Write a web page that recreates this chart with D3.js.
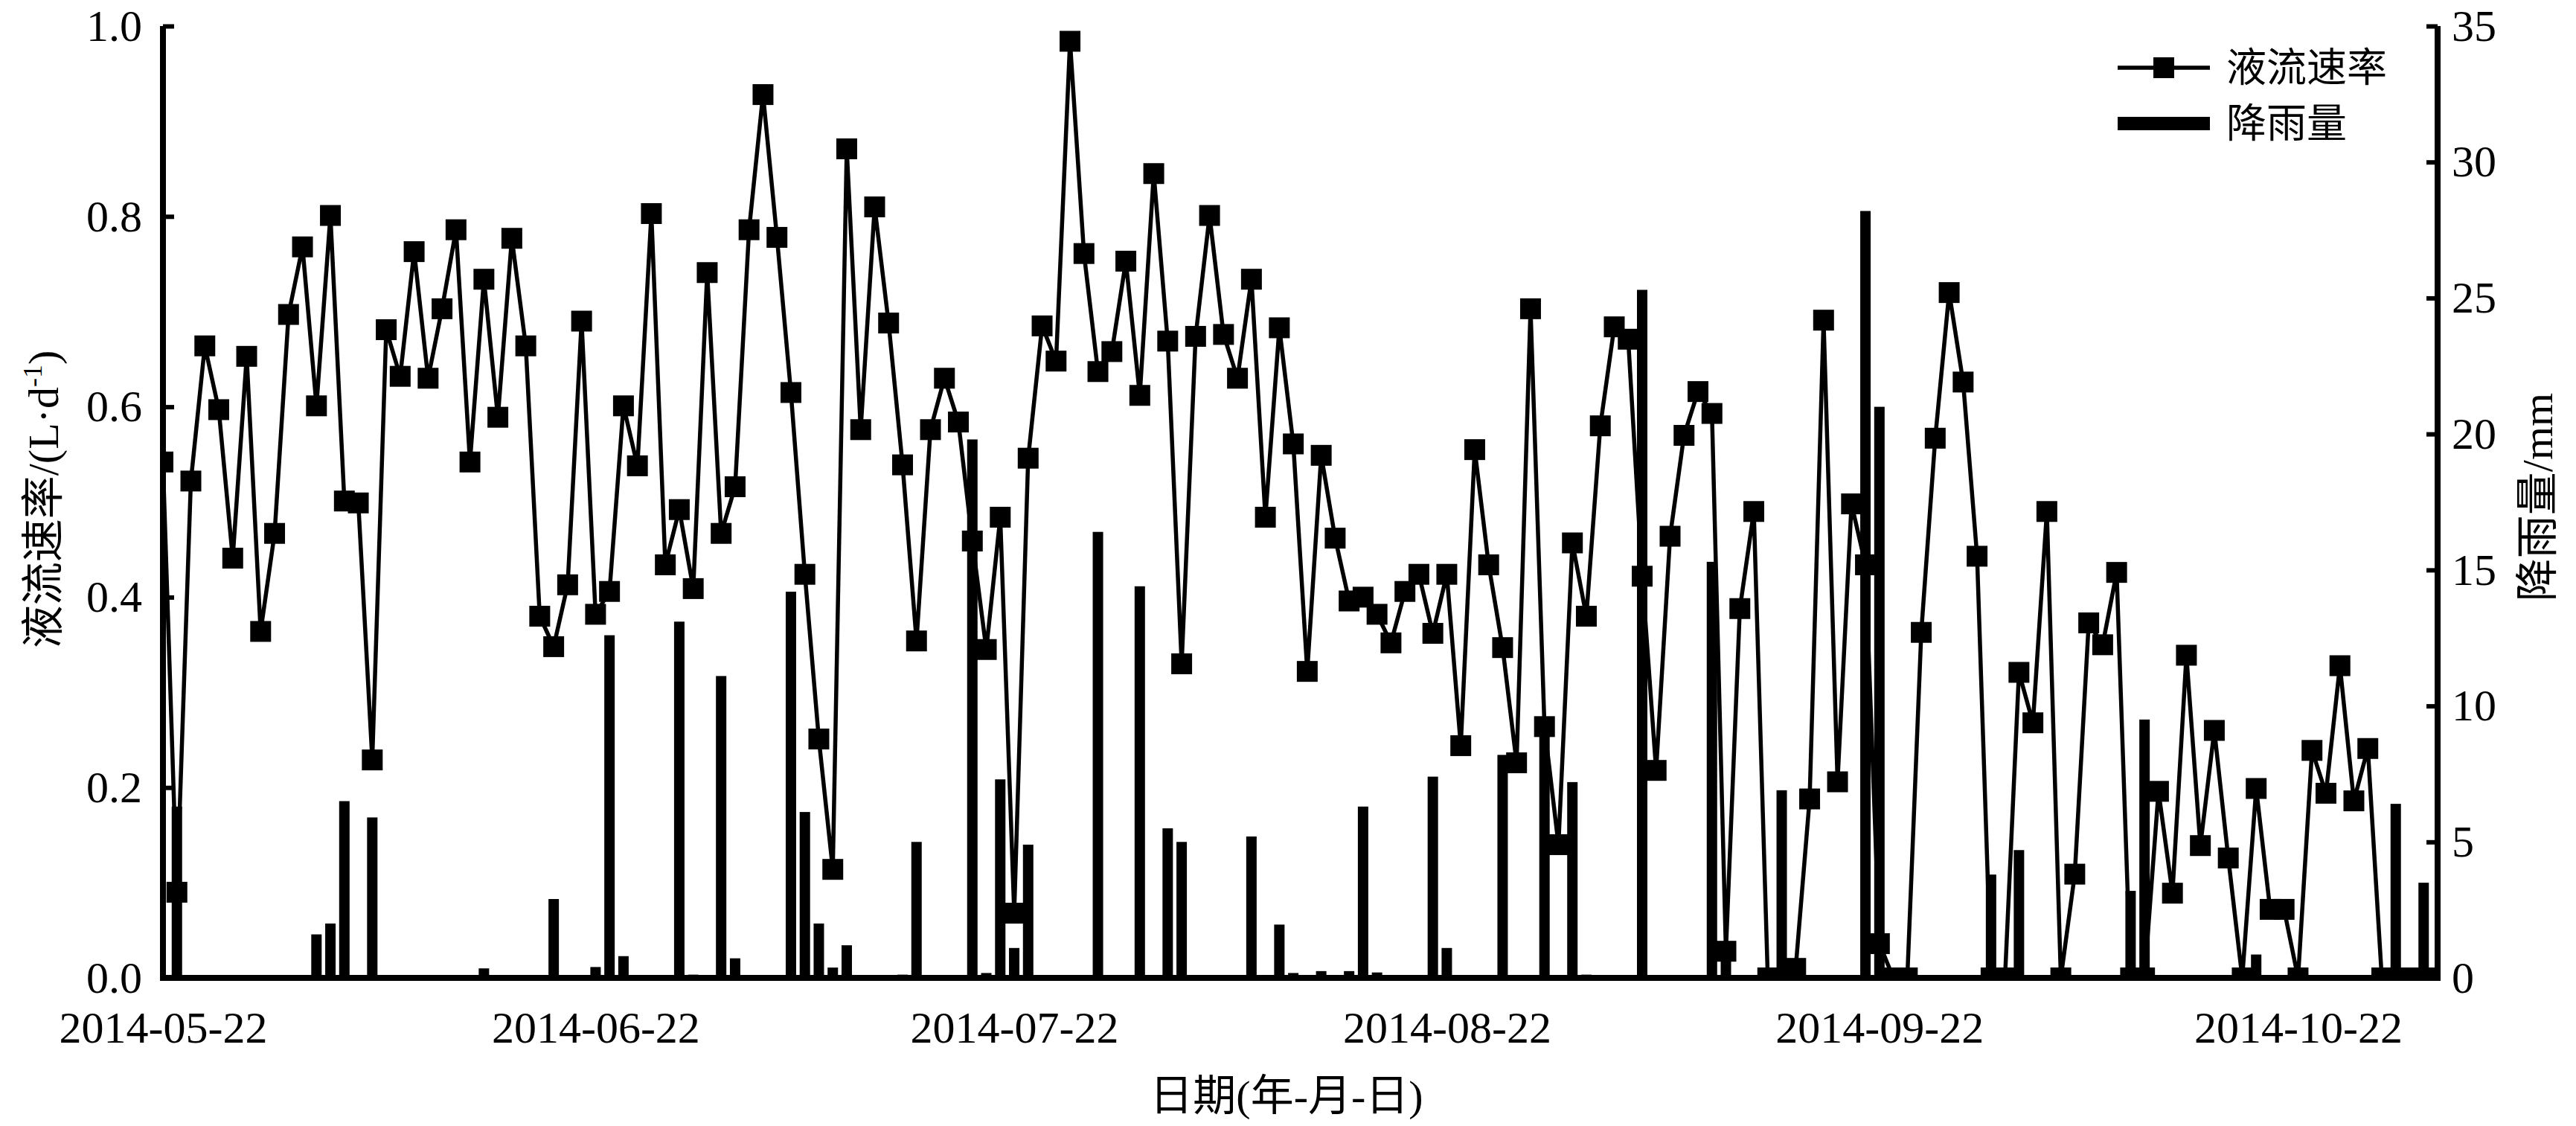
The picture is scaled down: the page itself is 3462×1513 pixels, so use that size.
<!DOCTYPE html>
<html>

<head>
    <meta charset="utf-8">
    <title>液流速率与降雨量</title>
    <script src="https://cdn.jsdelivr.net/npm/d3@7"></script>
    <style>
        body { margin: 0; background: #fff; }
        text { font-family: "Liberation Serif", "Noto Sans CJK SC", serif; fill: #000; }
    </style>
</head>

<body>
    <svg width="3462" height="1513" id="mainsvg"></svg>
    <script>
        // daily categories, first and last day of the record
        const startDay = '2014-05-22';
        const endDay = '2014-11-01';
        const tickLabels = ['2014-05-22', '2014-06-22', '2014-07-22', '2014-08-22', '2014-09-22', '2014-10-22'];
        const leftTicks = [0, 0.2, 0.4, 0.6, 0.8, 1.0];
        const rightTicks = [0, 5, 10, 15, 20, 25, 30, 35];

        // 液流速率 (L·d-1), one value per day
        const flowRate = [
            0.542, 0.090, 0.522, 0.664, 0.597, 0.441, 0.653, 0.364, 0.467, 0.697,
            0.768, 0.601, 0.801, 0.501, 0.499, 0.229, 0.681, 0.632, 0.763, 0.630,
            0.703, 0.786, 0.542, 0.734, 0.589, 0.777, 0.664, 0.380, 0.348, 0.413,
            0.690, 0.382, 0.406, 0.601, 0.538, 0.803, 0.434, 0.492, 0.409, 0.741,
            0.467, 0.516, 0.786, 0.928, 0.778, 0.615, 0.424, 0.251, 0.114, 0.871,
            0.576, 0.810, 0.688, 0.539, 0.354, 0.576, 0.630, 0.584, 0.459, 0.345,
            0.484, 0.068, 0.546, 0.685, 0.648, 0.984, 0.761, 0.637, 0.658, 0.753,
            0.612, 0.845, 0.669, 0.330, 0.674, 0.801, 0.676, 0.630, 0.734, 0.484,
            0.683, 0.561, 0.322, 0.549, 0.462, 0.396, 0.400, 0.382, 0.352, 0.406,
            0.424, 0.362, 0.424, 0.244, 0.555, 0.434, 0.347, 0.226, 0.703, 0.264,
            0.140, 0.457, 0.380, 0.580, 0.684, 0.671, 0.422, 0.218, 0.464, 0.570,
            0.616, 0.593, 0.028, 0.388, 0.490, 0.000, 0.000, 0.010, 0.188, 0.691,
            0.206, 0.498, 0.434, 0.036, 0.000, 0.000, 0.363, 0.567, 0.720, 0.626,
            0.443, 0.000, 0.000, 0.321, 0.268, 0.490, 0.000, 0.109, 0.373, 0.350,
            0.426, 0.000, 0.000, 0.196, 0.089, 0.339, 0.139, 0.260, 0.126, 0.000,
            0.199, 0.072, 0.072, 0.000, 0.239, 0.194, 0.328, 0.186, 0.241, 0.000,
            0.000, 0.000, 0.000, 0.000
        ];

        // 降雨量 (mm), one value per day
        const rainfall = [
            0, 6.3, 0, 0, 0, 0, 0, 0, 0, 0,
            0, 1.6, 2.0, 6.5, 0, 5.9, 0, 0, 0, 0,
            0, 0, 0, 0.35, 0, 0, 0, 0, 2.9, 0,
            0, 0.4, 12.6, 0.8, 0, 0, 0, 13.1, 0.12, 0,
            11.1, 0.72, 0, 0, 0, 14.2, 6.1, 2.0, 0.38, 1.2,
            0, 0, 0, 0.12, 5.0, 0, 0, 0, 19.8, 0.18,
            7.3, 1.1, 4.9, 0, 0, 0, 0, 16.4, 0, 0,
            14.4, 0, 5.5, 5.0, 0, 0, 0, 0, 5.2, 0,
            1.96, 0.18, 0, 0.25, 0, 0.25, 6.3, 0.2, 0, 0,
            0, 7.4, 1.1, 0, 0, 0, 8.2, 0, 0, 9.3,
            0, 7.2, 0.12, 0, 0, 0, 25.3, 0, 0, 0,
            0, 15.3, 0.8, 0, 0, 0, 6.9, 0, 0, 0,
            0, 0, 28.2, 21.0, 0, 0, 0, 0, 0, 0,
            0, 3.8, 0, 4.7, 0, 0, 0, 0, 0, 0,
            0, 3.2, 9.5, 0, 0, 0, 0, 0, 0, 0,
            0.86, 0, 0, 0, 0, 0, 0, 0, 0, 0,
            6.4, 0, 3.5, 0
        ];

        const svg = d3.select('svg');
        const parse = d3.timeParse('%Y-%m-%d');
        const days = d3.timeDays(parse(startDay), d3.timeDay.offset(parse(endDay), 1));
        const data = days.map((d, i) => ({ date: d, flow: flowRate[i], rain: rainfall[i] }));

        const plotL = 219, plotR = 3276, plotT = 35, plotB = 1314;
        const AXIS_W = 8;
        const MARK = 28;
        const BAR_W = 14;
        const LINE_W = 5.5;

        const x = d3.scaleTime().domain([parse(startDay), parse(endDay)]).range([plotL, plotR]);
        const yL = d3.scaleLinear().domain([0, 1]).range([plotB, plotT]);
        const yR = d3.scaleLinear().domain([0, 35]).range([plotB, plotT]);

        svg.append('rect').attr('width', 3462).attr('height', 1513).attr('fill', '#fff');

        svg.append('clipPath').attr('id', 'plotclip')
            .append('rect').attr('x', plotL).attr('y', plotT - 20)
            .attr('width', plotR - plotL).attr('height', plotB - plotT + 20);

        const plot = svg.append('g').attr('clip-path', 'url(#plotclip)');

        // rain bars
        plot.selectAll('.bar').data(data.filter(d => d.rain > 0)).join('rect').attr('class', 'bar')
            .attr('x', d => x(d.date) - BAR_W / 2).attr('width', BAR_W)
            .attr('y', d => yR(d.rain)).attr('height', d => yR(0) - yR(d.rain))
            .attr('fill', '#000');

        // flow line + square markers
        const line = d3.line().x(d => x(d.date)).y(d => yL(d.flow));
        plot.append('path').datum(data).attr('d', line)
            .attr('fill', 'none').attr('stroke', '#000').attr('stroke-width', LINE_W)
            .attr('stroke-linejoin', 'miter');

        plot.selectAll('.mark').data(data).join('rect').attr('class', 'mark')
            .attr('x', d => x(d.date) - MARK / 2).attr('y', d => yL(d.flow) - MARK / 2)
            .attr('width', MARK).attr('height', MARK).attr('fill', '#000');

        // axes
        const leftAxis = d3.axisRight(yL).tickValues(leftTicks).tickSize(15).tickFormat(d3.format('.1f'));
        const gL = svg.append('g').attr('transform', `translate(${plotL},0)`).call(leftAxis);
        const rightAxis = d3.axisLeft(yR).tickValues(rightTicks).tickSize(15).tickFormat(d3.format('d'));
        const gR = svg.append('g').attr('transform', `translate(${plotR},0)`).call(rightAxis);
        const bottomAxis = d3.axisBottom(x).tickValues(tickLabels.map(parse)).tickSize(0)
            .tickFormat(d3.timeFormat('%Y-%m-%d'));
        const gB = svg.append('g').attr('transform', `translate(0,${plotB})`).call(bottomAxis);

        [gL, gR, gB].forEach(g => {
            g.select('.domain').attr('stroke', '#000').attr('stroke-width', AXIS_W);
            g.selectAll('.tick line').attr('stroke', '#000').attr('stroke-width', 6);
            g.selectAll('.tick text').attr('font-size', 60).attr('fill', '#000')
                .attr('font-family', '"Liberation Serif", serif');
        });
        gL.selectAll('.tick text').attr('x', -28).attr('text-anchor', 'end');
        gR.selectAll('.tick text').attr('x', 19).attr('text-anchor', 'start');
        gB.selectAll('.tick text').attr('y', 44);
        gB.select('.domain').attr('d', `M${plotL - AXIS_W / 2},0H${plotR + AXIS_W / 2}`);
        gL.select('.domain').attr('d', `M0,${plotT}V${plotB}`);
        gR.select('.domain').attr('d', `M0,${plotT}V${plotB}`);

        // axis titles
        const lt = svg.append('text').attr('transform', 'translate(78,671) rotate(-90)')
            .attr('text-anchor', 'middle').attr('font-size', 58);
        lt.append('tspan').text('液流速率/(L·d');
        lt.append('tspan').attr('font-size', 36).attr('dy', -22).text('-1');
        lt.append('tspan').attr('dy', 22).text(')');

        svg.append('text').attr('transform', 'translate(3430,668) rotate(-90)')
            .attr('text-anchor', 'middle').attr('font-size', 58).text('降雨量/mm');

        svg.append('text').attr('x', 1729).attr('y', 1492)
            .attr('text-anchor', 'middle').attr('font-size', 58).text('日期(年-月-日)');

        // legend
        const legendNames = ['液流速率', '降雨量'];
        const lg = svg.append('g');
        lg.append('line').attr('x1', 2846).attr('x2', 2970).attr('y1', 91).attr('y2', 91)
            .attr('stroke', '#000').attr('stroke-width', LINE_W);
        lg.append('rect').attr('x', 2908 - MARK / 2).attr('y', 91 - MARK / 2)
            .attr('width', MARK).attr('height', MARK).attr('fill', '#000');
        lg.append('rect').attr('x', 2846).attr('y', 157).attr('width', 124).attr('height', 18).attr('fill', '#000');
        lg.selectAll('.lgText').data(legendNames).join('text').attr('class', 'lgText')
            .attr('x', 2992).attr('y', (d, i) => 91 + i * 75 + 19)
            .attr('font-size', 54).text(d => d);
    </script>
</body>

</html>
